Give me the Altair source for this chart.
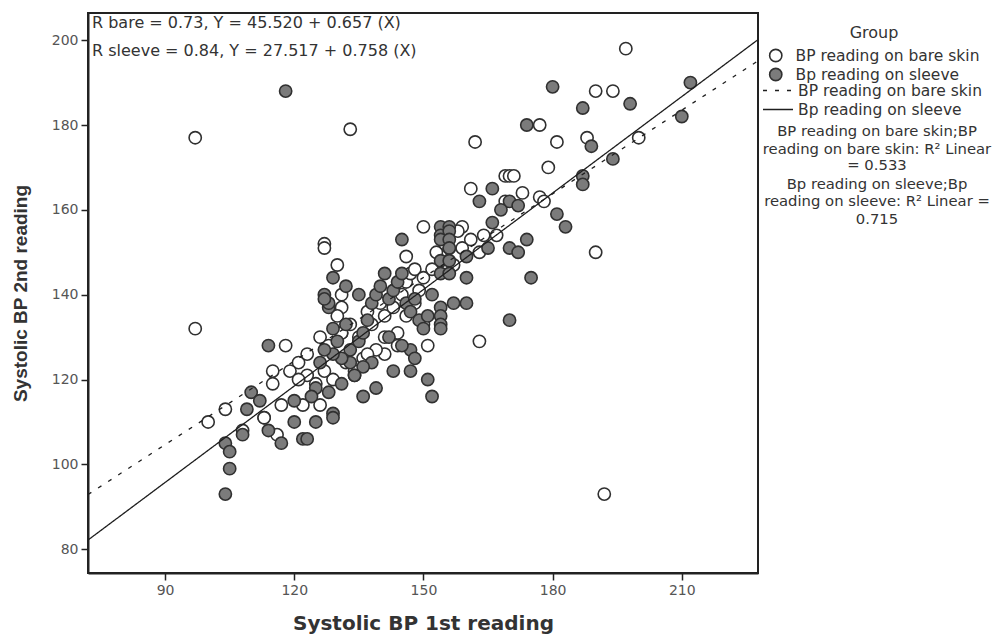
import altair as alt
import pandas as pd

GROUPS = ["BP reading on bare skin", "Bp reading on sleeve"]
FIT_KEYS = ["fit: BP reading on bare skin", "fit: Bp reading on sleeve"]

# Systolic BP 1st (x) and 2nd (y) readings
bare_x = [197, 190, 194, 177, 181, 188, 200, 179, 169, 170, 171, 173, 177, 178, 190, 97, 133, 97,
          162, 161, 169, 164, 167, 161, 163, 150, 159, 154, 159, 146, 157, 127, 127, 130, 131, 131,
          130, 163, 192, 118, 121, 123, 115, 119, 115, 104, 100, 113, 117, 122, 126, 116, 108, 113,
          131, 133, 135, 137, 138, 140, 141, 143, 145, 146, 147, 148, 149, 150, 152, 153, 155, 156,
          158, 150, 144, 141, 139, 136, 134, 132, 129, 127, 125, 123, 121, 134, 137, 141, 144, 146,
          148, 151, 126, 128, 131]
bare_y = [198, 188, 188, 180, 176, 177, 177, 170, 168, 168, 168, 164, 163, 162, 150, 177, 179, 132,
          176, 165, 162, 154, 154, 153, 150, 156, 156, 150, 151, 149, 147, 152, 151, 147, 140, 137,
          135, 129, 93, 128, 124, 126, 122, 122, 119, 113, 110, 111, 114, 114, 114, 107, 108, 111,
          131, 133, 130, 136, 133, 138, 135, 137, 140, 143, 145, 146, 141, 144, 146, 150, 152, 151,
          155, 133, 128, 126, 127, 125, 122, 124, 120, 122, 119, 121, 120, 121, 126, 130, 131, 135,
          138, 128, 130, 128, 131]
sleeve_x = [180, 212, 187, 198, 174, 210, 189, 194, 187, 187, 170, 172, 168, 181, 183, 174, 170, 172,
            175, 166, 163, 166, 165, 154, 156, 154, 156, 154, 156, 156, 154, 156, 145, 160, 160, 154,
            156, 157, 160, 170, 154, 154, 154, 154, 147, 147, 151, 152, 136, 129, 118, 129, 127, 128,
            114, 110, 109, 112, 120, 129, 125, 120, 114, 108, 117, 122, 123, 104, 105, 105, 104,
            128, 129, 130, 132, 133, 135, 136, 137, 138, 139, 140, 141, 142, 143, 144, 145, 146, 147,
            148, 149, 150, 151, 152, 138, 136, 133, 131, 129, 127, 126, 125, 124, 128, 131, 134, 142,
            145, 148, 143, 139, 127, 132, 135]
sleeve_y = [189, 190, 184, 185, 180, 182, 175, 172, 168, 166, 162, 161, 160, 159, 156, 153, 151, 150,
            144, 165, 162, 157, 151, 156, 156, 154, 155, 153, 153, 151, 148, 148, 153, 149, 144, 145,
            145, 138, 138, 134, 137, 135, 133, 132, 127, 122, 120, 116, 116, 112, 188, 144, 140, 137,
            128, 117, 113, 115, 115, 111, 110, 110, 108, 107, 105, 106, 106, 105, 103, 99, 93,
            138, 132, 129, 133, 127, 129, 131, 134, 138, 140, 142, 145, 139, 141, 143, 145, 138, 136,
            139, 134, 132, 135, 140, 124, 123, 124, 125, 126, 127, 124, 118, 116, 117, 119, 121, 130,
            128, 125, 122, 118, 139, 142, 140]

x_ticks = [90, 120, 150, 180, 210]
y_ticks = [80, 100, 120, 140, 160, 180, 200]
x_domain = [72.1, 227.7]
y_domain = [74.4, 206.4]

# Linear fits as printed on the chart
intercepts = [45.520, 27.517]
slopes = [0.657, 0.758]

annot_lines = ["R bare = 0.73, Y = 45.520 + 0.657 (X)",
               "R sleeve = 0.84, Y = 27.517 + 0.758 (X)"]
r2_lines = ["BP reading on bare skin;BP", "reading on bare skin: R\u00b2 Linear", "= 0.533",
            "Bp reading on sleeve;Bp", "reading on sleeve: R\u00b2 Linear =", "0.715"]

FONT = "DejaVu Sans"
TITLE_FONT = "Liberation Sans"

pts = pd.DataFrame({
    "x": bare_x + sleeve_x,
    "y": bare_y + sleeve_y,
    "group": [GROUPS[0]] * len(bare_x) + [GROUPS[1]] * len(sleeve_x),
})

rows = []
for g, a, b in zip(FIT_KEYS, intercepts, slopes):
    for xv in x_domain:
        rows.append({"x": xv, "y": a + b * xv, "fit": g})
fits_df = pd.DataFrame(rows)

xs = alt.Scale(domain=x_domain, nice=False, zero=False)
ys = alt.Scale(domain=y_domain, nice=False, zero=False)

xaxis = alt.Axis(values=x_ticks, grid=False, title="Systolic BP 1st reading",
                 titleX=335, titleY=50, titleBaseline="middle", titleAlign="center",
                 titleFont="DejaVu Sans", titleFontSize=20)
yaxis = alt.Axis(values=y_ticks, grid=False, title="Systolic BP 2nd reading",
                 titleX=-68, titleY=280, titleAngle=270, titleBaseline="middle", titleAlign="center",
                 titleFont=TITLE_FONT, titleFontSize=19)

points = alt.Chart(pts).mark_point(
    shape="circle", filled=True, size=150, stroke="#303030", strokeWidth=1.6, opacity=1
).encode(
    x=alt.X("x:Q", scale=xs, axis=xaxis),
    y=alt.Y("y:Q", scale=ys, axis=yaxis),
    fill=alt.Fill("group:N", scale=alt.Scale(domain=GROUPS, range=["#ffffff", "#7b7b7b"]),
                  legend=alt.Legend(title="Group", orient="none", legendX=680, legendY=12,
                                    titleAnchor="middle", titleFontSize=16, titleFontWeight="normal",
                                    titleColor="#333", titleFont=FONT, titlePadding=7,
                                    symbolType="circle", symbolSize=150, symbolStrokeColor="#303030",
                                    symbolStrokeWidth=1.6, labelFontSize=15.5, labelFont=FONT,
                                    labelColor="#333", labelOffset=12, rowPadding=3, clipHeight=15,
                                    labelLimit=400)),
)

fits = alt.Chart(fits_df).mark_line(color="#1e1e1e", strokeWidth=1.3).encode(
    x=alt.X("x:Q", scale=xs),
    y=alt.Y("y:Q", scale=ys),
    strokeDash=alt.StrokeDash("fit:N", scale=alt.Scale(domain=FIT_KEYS, range=[[4, 8], [1, 0]]),
                              legend=alt.Legend(title=None, orient="none", legendX=674, legendY=70,
                                                symbolType="stroke", symbolSize=900,
                                                symbolStrokeColor="#1e1e1e", symbolStrokeWidth=1.3,
                                                labelFontSize=15.5, labelFont=FONT, labelColor="#333",
                                                labelOffset=4, rowPadding=3, clipHeight=15,
                                                labelLimit=400,
                                                labelExpr="replace(datum.label, 'fit: ', '')")),
)

layers = [points, fits]
for i, t in enumerate(annot_lines):
    layers.append(
        alt.Chart(pd.DataFrame({"t": [t]})).mark_text(
            align="left", baseline="middle", font=FONT, fontSize=16, color="#333"
        ).encode(x=alt.value(4), y=alt.value(10 + 28 * i), text="t:N")
    )
r2_y = [119, 137, 153, 172, 189, 207]
for t, yy in zip(r2_lines, r2_y):
    layers.append(
        alt.Chart(pd.DataFrame({"t": [t]})).mark_text(
            align="center", baseline="middle", font=FONT, fontSize=14.8, color="#333"
        ).encode(x=alt.value(789), y=alt.value(yy), text="t:N")
    )

chart = alt.layer(*layers).properties(
    width=670, height=560,
    padding={"left": 80, "top": 5, "right": 236, "bottom": 63},
    autosize=alt.AutoSizeParams(type="none"),
).configure_view(
    stroke="#222", strokeWidth=2
).configure_axis(
    domainColor="#222", domainWidth=2, tickColor="#222", tickWidth=1.5, tickSize=7,
    labelFont=FONT, labelFontSize=14, labelColor="#555", labelPadding=3,
    titleFontWeight="bold", titleColor="#333"
)

chart.save("out.html", embed_options={"renderer": "svg", "actions": False})
